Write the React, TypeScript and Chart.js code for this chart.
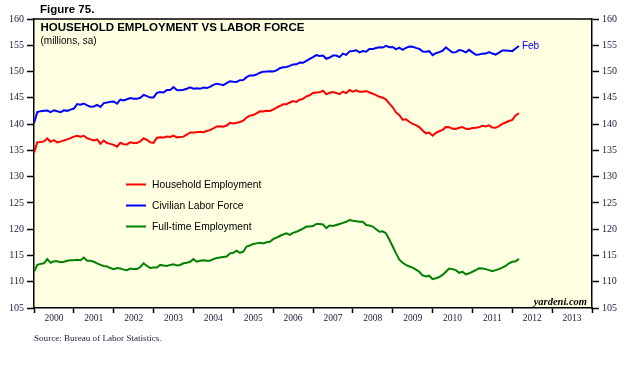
import { useEffect, useRef } from 'react';
import { Chart, registerables } from 'chart.js';

Chart.register(...registerables);

// Monthly values, Dec 1999 .. Feb 2012 (millions, sa)
const YEARS = ['2000', '2001', '2002', '2003', '2004', '2005', '2006', '2007', '2008', '2009', '2010', '2011', '2012', '2013'];

const HOUSEHOLD = [
  134.52,
  136.56, 136.60, 136.70, 137.27, 136.63, 136.94, 136.53, 136.66, 136.89, 137.09, 137.32, 137.61,
  137.78, 137.61, 137.78, 137.30, 137.09, 136.87, 137.07, 136.24, 136.85, 136.39, 136.24, 136.05,
  135.70, 136.44, 136.18, 136.13, 136.54, 136.42, 136.41, 136.71, 137.30, 137.01, 136.52, 136.43,
  137.42, 137.48, 137.43, 137.63, 137.54, 137.79, 137.47, 137.55, 137.61, 137.98, 138.42, 138.41,
  138.47, 138.54, 138.45, 138.68, 138.85, 139.17, 139.56, 139.57, 139.49, 139.73, 140.23, 140.13,
  140.25, 140.39, 140.65, 141.25, 141.61, 141.71, 142.03, 142.43, 142.40, 142.55, 142.50, 142.75,
  143.14, 143.44, 143.77, 143.79, 144.11, 144.37, 144.23, 144.63, 144.80, 145.29, 145.48, 145.91,
  146.03, 146.04, 146.37, 145.69, 145.95, 146.08, 145.93, 145.69, 146.19, 145.89, 146.48, 146.17,
  146.42, 146.17, 146.17, 146.31, 146.02, 145.77, 145.52, 145.19, 145.02, 144.68, 143.91, 143.19,
  142.22, 141.69, 140.85, 140.90, 140.44, 140.04, 139.82, 139.43, 138.77, 138.24, 138.38, 137.79,
  138.33, 138.64, 138.91, 139.46, 139.42, 139.12, 139.09, 139.29, 139.42, 139.09, 139.07, 139.27,
  139.29, 139.42, 139.67, 139.56, 139.78, 139.33, 139.30, 139.63, 140.03, 140.30, 140.58, 140.79,
  141.64, 142.07,
];

const LABOR_FORCE = [
  140.18,
  142.27, 142.46, 142.56, 142.59, 142.28, 142.64, 142.43, 142.25, 142.62, 142.52, 142.76, 142.96,
  143.80, 143.70, 143.92, 143.57, 143.32, 143.36, 143.65, 143.28, 143.99, 144.09, 144.24, 144.31,
  143.88, 144.65, 144.48, 144.73, 144.94, 144.81, 144.80, 145.01, 145.55, 145.31, 145.04, 145.07,
  145.94, 146.10, 146.02, 146.47, 146.50, 147.06, 146.49, 146.45, 146.53, 146.72, 147.00, 146.73,
  146.84, 146.71, 146.94, 146.85, 147.07, 147.46, 147.69, 147.56, 147.42, 147.79, 148.16, 148.06,
  148.03, 148.36, 148.39, 148.93, 149.26, 149.24, 149.43, 149.78, 149.95, 150.00, 150.07, 150.03,
  150.21, 150.64, 150.81, 150.88, 151.07, 151.35, 151.38, 151.72, 151.66, 152.04, 152.41, 152.73,
  153.14, 152.98, 153.05, 152.44, 152.67, 153.04, 153.05, 152.75, 153.41, 153.18, 153.84, 153.92,
  154.06, 153.65, 153.91, 153.77, 154.30, 154.31, 154.47, 154.64, 154.57, 154.88, 154.64, 154.66,
  154.21, 154.54, 154.13, 154.51, 154.75, 154.72, 154.50, 154.31, 153.83, 153.78, 153.88, 153.11,
  153.48, 153.69, 153.95, 154.62, 154.09, 153.62, 153.69, 154.09, 153.98, 153.64, 154.13, 153.65,
  153.19, 153.25, 153.41, 153.42, 153.69, 153.42, 153.23, 153.59, 154.02, 154.02, 153.94, 153.89,
  154.40, 154.87,
];

const FULL_TIME = [
  111.9,
  113.2, 113.4, 113.5, 114.3, 113.6, 113.9, 113.9, 113.7, 113.8, 114.0, 114.1, 114.1,
  114.2, 114.1, 114.6, 114.0, 114.0, 113.8, 113.5, 113.2, 113.0, 112.9, 112.6, 112.4,
  112.6, 112.5, 112.3, 112.2, 112.5, 112.4, 112.4, 112.8, 113.5, 113.0, 112.6, 112.7,
  112.7, 113.2, 113.1, 113.0, 113.2, 113.3, 113.1, 113.2, 113.5, 113.6, 113.8, 114.3,
  113.8, 114.0, 114.1, 114.0, 114.0, 114.3, 114.5, 114.6, 114.7, 114.8, 115.4, 115.5,
  115.9, 115.5, 115.7, 116.7, 116.9, 117.2, 117.3, 117.4, 117.3, 117.5, 117.6, 118.1,
  118.4, 118.7, 119.0, 119.2, 118.9, 119.3, 119.5, 119.8, 120.1, 120.5, 120.5, 120.6,
  121.0, 121.0, 120.9, 120.2, 120.7, 120.6, 120.8, 121.0, 121.2, 121.4, 121.75, 121.6,
  121.5, 121.4, 121.4, 120.8, 120.7, 120.5, 120.0, 119.5, 119.6, 119.2, 118.0, 116.7,
  115.4, 114.2, 113.6, 113.2, 112.9, 112.7, 112.3, 111.9, 111.2, 111.0, 111.15, 110.5,
  110.65, 110.9, 111.3, 111.9, 112.5, 112.4, 112.2, 111.7, 111.9, 111.4, 111.6, 111.9,
  112.2, 112.55, 112.5, 112.4, 112.2, 112.0, 112.2, 112.4, 112.7, 113.0, 113.5, 113.8,
  113.9, 114.35,
];

const SERIES_NAMES = ['Household Employment', 'Civilian Labor Force', 'Full-time Employment'];
const SERIES_COLORS = ['#ff0000', '#0000ff', '#008000'];
const Y_MIN = 105;
const Y_MAX = 160;
const Y_STEP = 5;
const LAST_LABEL = 'Feb';

const SANS = '"Liberation Sans", Arial, sans-serif';
const SERIF = '"Liberation Serif", "Times New Roman", serif';
const TICK_COLOR = '#1c1c3c';

const decorPlugin = {
  id: 'decor',
  beforeDraw(chart: any) {
    const { ctx, chartArea: a } = chart;
    ctx.save();
    ctx.fillStyle = '#ffffff';
    ctx.fillRect(0, 0, chart.width, chart.height);
    ctx.fillStyle = '#ffffe2';
    ctx.fillRect(a.left, a.top, a.right - a.left, a.bottom - a.top);
    ctx.restore();
  },
  afterDraw(chart: any) {
    const { ctx, chartArea: a } = chart;
    ctx.save();
    // top frame line
    ctx.strokeStyle = '#000';
    ctx.lineWidth = 1.5;
    ctx.beginPath();
    ctx.moveTo(a.left, a.top);
    ctx.lineTo(a.right, a.top);
    ctx.stroke();

    ctx.fillStyle = '#000';
    ctx.textBaseline = 'alphabetic';
    ctx.textAlign = 'left';
    ctx.font = `bold 11.5px ${SANS}`;
    ctx.fillText('Figure 75.', 40, 13);
    ctx.font = `bold 11.5px ${SANS}`;
    ctx.fillText('HOUSEHOLD EMPLOYMENT VS LABOR FORCE', 40.5, 31);
    ctx.font = `10px ${SANS}`;
    ctx.fillText('(millions, sa)', 40.5, 43.5);

    // legend
    const rows = [184.5, 205.5, 226.5];
    ctx.font = `10.3px ${SANS}`;
    ctx.textBaseline = 'middle';
    SERIES_NAMES.forEach((name, k) => {
      ctx.strokeStyle = SERIES_COLORS[k];
      ctx.lineWidth = 2;
      ctx.beginPath();
      ctx.moveTo(126, rows[k]);
      ctx.lineTo(146, rows[k]);
      ctx.stroke();
      ctx.fillStyle = '#000';
      ctx.fillText(name, 152, rows[k] + 0.5);
    });

    // end label
    const xs = chart.scales.x;
    const ys = chart.scales.y;
    const li = LABOR_FORCE.length - 1;
    ctx.fillStyle = '#0000ff';
    ctx.font = `10px ${SANS}`;
    ctx.fillText(LAST_LABEL, xs.getPixelForValue(li) + 3, ys.getPixelForValue(LABOR_FORCE[li]) + 0.5);

    ctx.fillStyle = '#000';
    ctx.textBaseline = 'alphabetic';
    ctx.textAlign = 'right';
    ctx.font = `italic bold 10.5px ${SERIF}`;
    ctx.fillText('yardeni.com', a.right - 5, a.bottom - 3);

    ctx.textAlign = 'left';
    ctx.textBaseline = 'middle';
    ctx.fillStyle = TICK_COLOR;
    ctx.font = `9.1px ${SERIF}`;
    ctx.fillText('Source: Bureau of Labor Statistics.', 34, 338.5);
    ctx.restore();
  },
};

export default function App() {
  const ref = useRef<HTMLCanvasElement | null>(null);

  useEffect(() => {
    if (!ref.current) return;
    const series = [HOUSEHOLD, LABOR_FORCE, FULL_TIME];
    const yAxis = (pos: 'left' | 'right', width: number) => ({
      type: 'linear' as const,
      position: pos,
      min: Y_MIN,
      max: Y_MAX,
      ticks: {
        stepSize: Y_STEP,
        padding: 3,
        color: TICK_COLOR,
        font: { family: SERIF, size: 10 },
      },
      grid: {
        drawOnChartArea: false,
        tickLength: 7,
        tickWidth: 1.5,
        tickColor: '#000',
      },
      border: { display: true, color: '#000', width: 1.5 },
      afterFit: (s: any) => {
        s.width = width;
      },
    });

    const chart = new Chart(ref.current, {
      type: 'line',
      data: {
        datasets: series.map((vals, k) => ({
          label: SERIES_NAMES[k],
          data: vals.map((v, i) => ({ x: i, y: v })),
          borderColor: SERIES_COLORS[k],
          backgroundColor: SERIES_COLORS[k],
          borderWidth: 2,
          pointRadius: 0,
          tension: 0,
          yAxisID: 'y',
        })),
      },
      options: {
        responsive: false,
        animation: false,
        layout: { padding: { top: 19, left: 0, right: 0, bottom: 0 } },
        plugins: { legend: { display: false }, tooltip: { enabled: false } },
        scales: {
          x: {
            type: 'linear',
            position: 'bottom',
            min: 0,
            max: YEARS.length * 12,
            afterBuildTicks: (s: any) => {
              const t = [];
              for (let k = 0; k <= YEARS.length * 2; k++) t.push({ value: k * 6 });
              s.ticks = t;
            },
            ticks: {
              autoSkip: false,
              maxRotation: 0,
              padding: 0,
              color: TICK_COLOR,
              font: { family: SERIF, size: 9.5 },
              callback: (v: any) => (Number(v) % 12 === 6 ? YEARS[(Number(v) - 6) / 12] : ''),
            },
            grid: {
              drawOnChartArea: false,
              tickLength: 5,
              tickWidth: 1.5,
              tickColor: (c: any) => (c.tick && c.tick.value % 12 === 0 ? '#000' : 'rgba(0,0,0,0)'),
            },
            border: { display: true, color: '#000', width: 1.5 },
            afterFit: (s: any) => {
              s.height = 58;
            },
          },
          y: yAxis('left', 34),
          y2: yAxis('right', 44),
        },
      },
      plugins: [decorPlugin],
    });
    return () => chart.destroy();
  }, []);

  return (
    <div style={{ position: 'absolute', left: 0, top: 0, width: 636, height: 366, background: '#fff' }}>
      <canvas ref={ref} width={636} height={366} />
    </div>
  );
}
